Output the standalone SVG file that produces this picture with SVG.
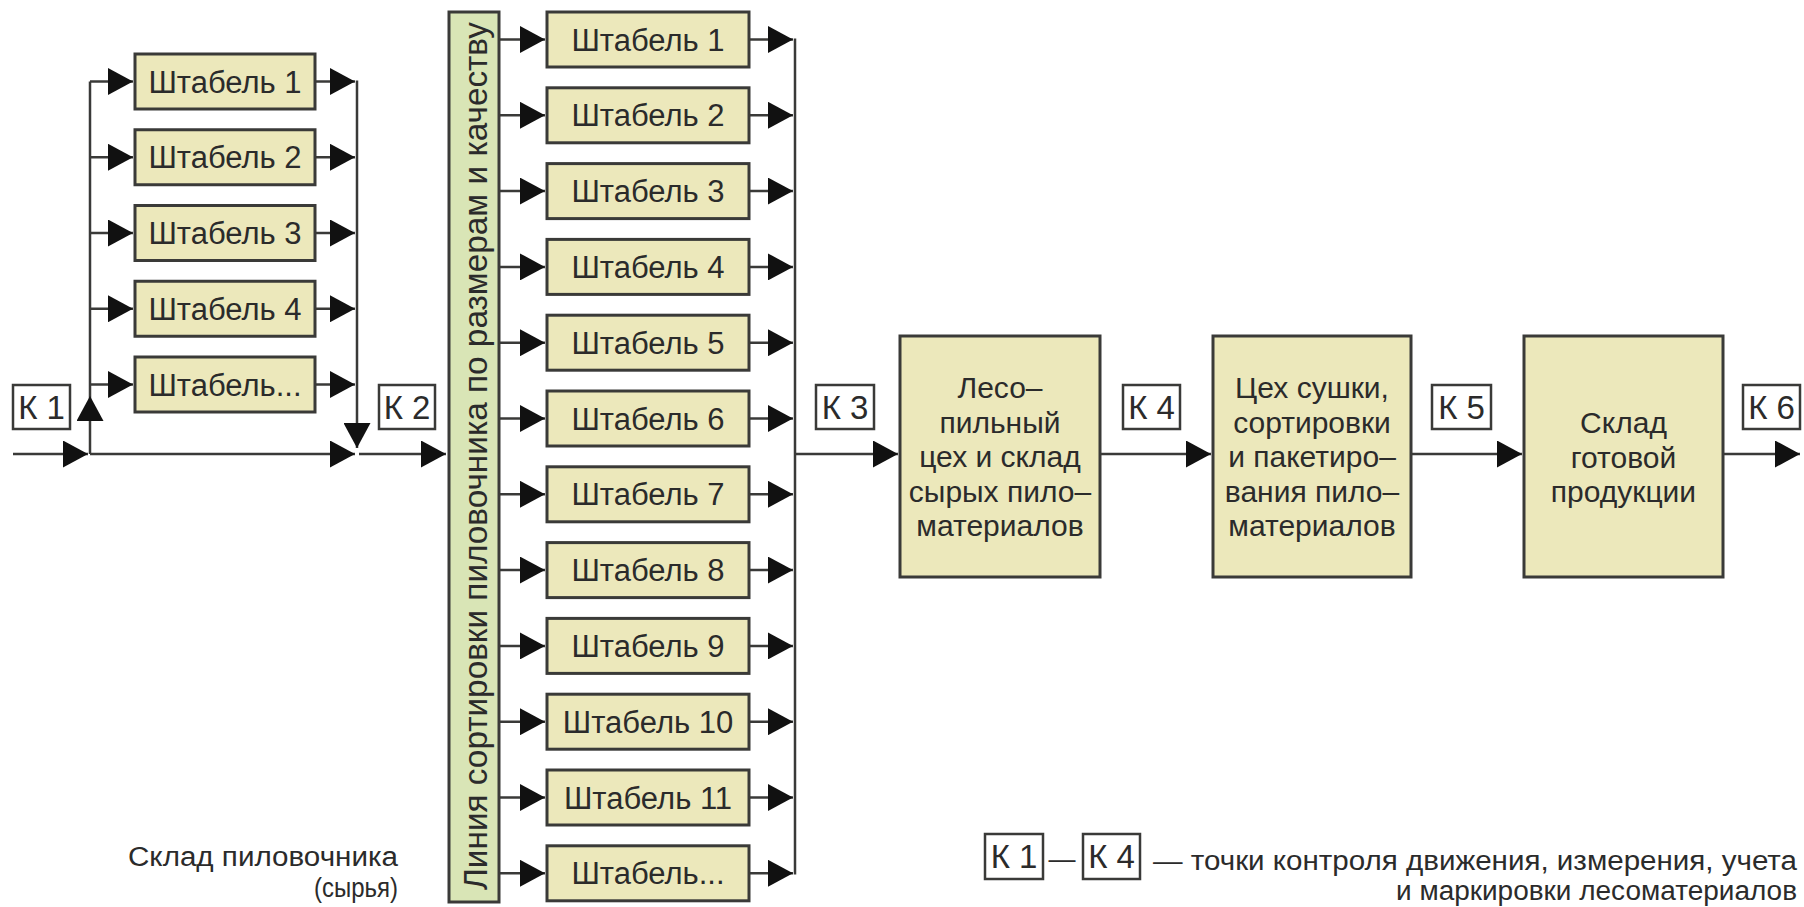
<svg xmlns="http://www.w3.org/2000/svg" width="1804" height="907" viewBox="0 0 1804 907">
<style>
  .box { fill: #ece8bb; stroke: #3a3a38; stroke-width: 3; }
  .bar { fill: #d9e5b6; stroke: #3a3a38; stroke-width: 3; }
  .kbox { fill: #ffffff; stroke: #3a3a38; stroke-width: 2.5; }
  .t { font-family: "Liberation Sans", Arial, sans-serif; fill: #2b2b2b; }
  .st { font-size: 31px; text-anchor: middle; }
  .bt { font-size: 30px; text-anchor: middle; }
  .kt { font-size: 33px; text-anchor: middle; }
  .lg { font-size: 27px; }
  .conn path { fill: none; stroke: #3a3a38; stroke-width: 2.5; }
</style>
<defs>
  <marker id="arr" markerUnits="userSpaceOnUse" markerWidth="25" markerHeight="27" refX="25" refY="13.5" orient="auto" viewBox="0 0 25 27">
    <path d="M0,0 L25,13.5 L0,27 Z" fill="#111"/>
  </marker>
</defs>
<rect width="1804" height="907" fill="#ffffff"/>

<g id="connectors" class="conn">
  <path d="M13,454 H88" marker-end="url(#arr)"/>
  <path d="M90,454 H355" marker-end="url(#arr)"/>
  <path d="M90,454 V396" marker-end="url(#arr)"/>
  <path d="M90,396 V81.5"/>
  <path d="M90,81.5 H133" marker-end="url(#arr)"/>
  <path d="M90,157.25 H133" marker-end="url(#arr)"/>
  <path d="M90,233 H133" marker-end="url(#arr)"/>
  <path d="M90,308.75 H133" marker-end="url(#arr)"/>
  <path d="M90,384.5 H133" marker-end="url(#arr)"/>
  <path d="M315,81.5 H355" marker-end="url(#arr)"/>
  <path d="M315,157.25 H355" marker-end="url(#arr)"/>
  <path d="M315,233 H355" marker-end="url(#arr)"/>
  <path d="M315,308.75 H355" marker-end="url(#arr)"/>
  <path d="M315,384.5 H355" marker-end="url(#arr)"/>
  <path d="M357,80.5 V448" marker-end="url(#arr)"/>
  <path d="M359,454 H446" marker-end="url(#arr)"/>

  <path d="M499,39.5 H545" marker-end="url(#arr)"/>
  <path d="M499,115.3 H545" marker-end="url(#arr)"/>
  <path d="M499,191.1 H545" marker-end="url(#arr)"/>
  <path d="M499,266.9 H545" marker-end="url(#arr)"/>
  <path d="M499,342.7 H545" marker-end="url(#arr)"/>
  <path d="M499,418.5 H545" marker-end="url(#arr)"/>
  <path d="M499,494.3 H545" marker-end="url(#arr)"/>
  <path d="M499,570.1 H545" marker-end="url(#arr)"/>
  <path d="M499,645.9 H545" marker-end="url(#arr)"/>
  <path d="M499,721.7 H545" marker-end="url(#arr)"/>
  <path d="M499,797.5 H545" marker-end="url(#arr)"/>
  <path d="M499,873.3 H545" marker-end="url(#arr)"/>

  <path d="M749,39.5 H793" marker-end="url(#arr)"/>
  <path d="M749,115.3 H793" marker-end="url(#arr)"/>
  <path d="M749,191.1 H793" marker-end="url(#arr)"/>
  <path d="M749,266.9 H793" marker-end="url(#arr)"/>
  <path d="M749,342.7 H793" marker-end="url(#arr)"/>
  <path d="M749,418.5 H793" marker-end="url(#arr)"/>
  <path d="M749,494.3 H793" marker-end="url(#arr)"/>
  <path d="M749,570.1 H793" marker-end="url(#arr)"/>
  <path d="M749,645.9 H793" marker-end="url(#arr)"/>
  <path d="M749,721.7 H793" marker-end="url(#arr)"/>
  <path d="M749,797.5 H793" marker-end="url(#arr)"/>
  <path d="M749,873.3 H793" marker-end="url(#arr)"/>
  <path d="M795,38.5 V874.5"/>

  <path d="M795,454 H898" marker-end="url(#arr)"/>
  <path d="M1100,454 H1211" marker-end="url(#arr)"/>
  <path d="M1411,454 H1522" marker-end="url(#arr)"/>
  <path d="M1723,454 H1800" marker-end="url(#arr)"/>
</g>

<!-- Left stacks -->
<g id="ls1"><rect class="box" x="135" y="54" width="180" height="55"/><text class="t st" x="225" y="92.5">Штабель 1</text></g>
<g id="ls2"><rect class="box" x="135" y="129.75" width="180" height="55"/><text class="t st" x="225" y="168.25">Штабель 2</text></g>
<g id="ls3"><rect class="box" x="135" y="205.5" width="180" height="55"/><text class="t st" x="225" y="244">Штабель 3</text></g>
<g id="ls4"><rect class="box" x="135" y="281.25" width="180" height="55"/><text class="t st" x="225" y="319.75">Штабель 4</text></g>
<g id="ls5"><rect class="box" x="135" y="357" width="180" height="55"/><text class="t st" x="225" y="395.5">Штабель...</text></g>

<!-- Sorting line -->
<g id="sortline">
  <rect class="bar" x="449" y="12" width="50" height="890"/>
  <text class="t" font-size="33" transform="translate(487,890) rotate(-90)" textLength="868" lengthAdjust="spacingAndGlyphs">Линия сортировки пиловочника по размерам и качеству</text>
</g>

<!-- Right stacks -->
<g id="rs1"><rect class="box" x="547" y="12" width="202" height="55"/><text class="t st" x="648" y="50.5">Штабель 1</text></g>
<g id="rs2"><rect class="box" x="547" y="87.8" width="202" height="55"/><text class="t st" x="648" y="126.3">Штабель 2</text></g>
<g id="rs3"><rect class="box" x="547" y="163.6" width="202" height="55"/><text class="t st" x="648" y="202.1">Штабель 3</text></g>
<g id="rs4"><rect class="box" x="547" y="239.4" width="202" height="55"/><text class="t st" x="648" y="277.9">Штабель 4</text></g>
<g id="rs5"><rect class="box" x="547" y="315.2" width="202" height="55"/><text class="t st" x="648" y="353.7">Штабель 5</text></g>
<g id="rs6"><rect class="box" x="547" y="391" width="202" height="55"/><text class="t st" x="648" y="429.5">Штабель 6</text></g>
<g id="rs7"><rect class="box" x="547" y="466.8" width="202" height="55"/><text class="t st" x="648" y="505.3">Штабель 7</text></g>
<g id="rs8"><rect class="box" x="547" y="542.6" width="202" height="55"/><text class="t st" x="648" y="581.1">Штабель 8</text></g>
<g id="rs9"><rect class="box" x="547" y="618.4" width="202" height="55"/><text class="t st" x="648" y="656.9">Штабель 9</text></g>
<g id="rs10"><rect class="box" x="547" y="694.2" width="202" height="55"/><text class="t st" x="648" y="732.7">Штабель 10</text></g>
<g id="rs11"><rect class="box" x="547" y="770" width="202" height="55"/><text class="t st" x="648" y="808.5">Штабель 11</text></g>
<g id="rs12"><rect class="box" x="547" y="845.8" width="202" height="55"/><text class="t st" x="648" y="884.3">Штабель...</text></g>

<!-- Process boxes -->
<g id="sawmill">
  <rect class="box" x="900" y="336" width="200" height="241"/>
  <text class="t bt" x="1000" y="398">Лесо–</text>
  <text class="t bt" x="1000" y="432.5">пильный</text>
  <text class="t bt" x="1000" y="467">цех и склад</text>
  <text class="t bt" x="1000" y="501.5">сырых пило–</text>
  <text class="t bt" x="1000" y="536">материалов</text>
</g>
<g id="drying">
  <rect class="box" x="1213" y="336" width="198" height="241"/>
  <text class="t bt" x="1312" y="398">Цех сушки,</text>
  <text class="t bt" x="1312" y="432.5">сортировки</text>
  <text class="t bt" x="1312" y="467">и пакетиро–</text>
  <text class="t bt" x="1312" y="501.5">вания пило–</text>
  <text class="t bt" x="1312" y="536">материалов</text>
</g>
<g id="finished">
  <rect class="box" x="1524" y="336" width="199" height="241"/>
  <text class="t bt" x="1623.5" y="433">Склад</text>
  <text class="t bt" x="1623.5" y="467.5">готовой</text>
  <text class="t bt" x="1623.5" y="502">продукции</text>
</g>

<!-- Control points -->
<g id="k1"><rect class="kbox" x="13" y="385" width="57" height="44"/><text class="t kt" x="41.5" y="419">К 1</text></g>
<g id="k2"><rect class="kbox" x="379" y="385" width="56" height="44"/><text class="t kt" x="407" y="419">К 2</text></g>
<g id="k3"><rect class="kbox" x="816" y="385" width="58" height="44"/><text class="t kt" x="845" y="419">К 3</text></g>
<g id="k4"><rect class="kbox" x="1123" y="385" width="57" height="44"/><text class="t kt" x="1151.5" y="419">К 4</text></g>
<g id="k5"><rect class="kbox" x="1432" y="385" width="59" height="44"/><text class="t kt" x="1461.5" y="419">К 5</text></g>
<g id="k6"><rect class="kbox" x="1743" y="385" width="57" height="44"/><text class="t kt" x="1771.5" y="419">К 6</text></g>

<!-- Captions -->
<g id="caption-left">
  <text class="t lg" x="398" y="866" text-anchor="end" textLength="270" lengthAdjust="spacingAndGlyphs">Склад пиловочника</text>
  <text class="t lg" x="398" y="897" text-anchor="end" textLength="84" lengthAdjust="spacingAndGlyphs">(сырья)</text>
</g>
<g id="legend">
  <rect class="kbox" x="985" y="834" width="58" height="45"/>
  <text class="t kt" x="1014" y="868">К 1</text>
  <text class="t lg" x="1062" y="868" text-anchor="middle">—</text>
  <rect class="kbox" x="1083" y="834" width="57" height="45"/>
  <text class="t kt" x="1111.5" y="868">К 4</text>
  <text class="t lg" x="1797" y="870" text-anchor="end" textLength="644" lengthAdjust="spacingAndGlyphs">— точки контроля движения, измерения, учета</text>
  <text class="t lg" x="1797" y="900" text-anchor="end" textLength="401" lengthAdjust="spacingAndGlyphs">и маркировки лесоматериалов</text>
</g>
</svg>
